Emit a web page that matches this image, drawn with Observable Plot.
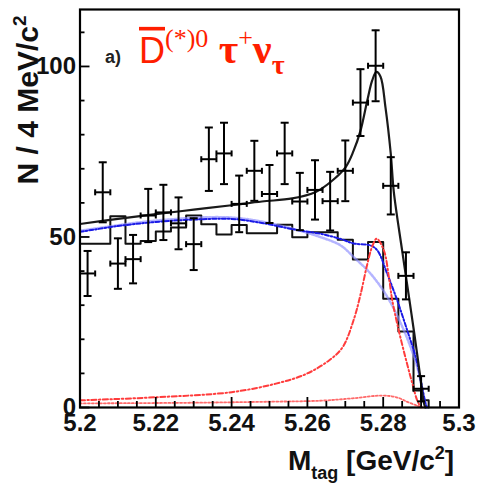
<!DOCTYPE html>
<html><head><meta charset="utf-8">
<script src="https://cdn.jsdelivr.net/npm/d3@7"></script>
<script src="https://cdn.jsdelivr.net/npm/@observablehq/plot@0.6"></script>
<style>html,body{margin:0;padding:0;background:#fff}#chart svg{display:block}</style>
</head><body><div id="chart"></div>
<script>
// ---- data points (N per 4 MeV bin) ----
const binCenters = [5.202,5.206,5.210,5.214,5.218,5.222,5.226,5.230,5.234,5.238,5.242,5.246,5.250,5.254,5.258,5.262,5.266,5.270,5.274,5.278,5.282,5.286,5.290];
const counts     = [39.3,63.1,42.2,43.5,56.3,57.2,54.0,47.9,72.8,74.5,59.7,69.4,62.6,74.5,60.4,63.8,60.5,69.4,89.4,100.2,65.0,38.6,5.5];
const errors     = [6.6,8.8,7.4,7.1,7.8,8.1,7.6,7.6,9.3,9.0,8.3,8.8,8.5,9.0,8.4,8.7,8.6,8.9,9.8,10.4,8.4,6.9,3.7];
const halfBin = 0.002;

// ---- black histogram ----
const histEdges  = [5.200,5.204,5.208,5.212,5.216,5.220,5.224,5.228,5.232,5.236,5.240,5.244,5.248,5.252,5.256,5.260,5.264,5.268,5.272,5.276,5.280,5.284,5.288,5.290,5.292];
const histValues = [48.0,48.0,56.1,48.0,48.8,51.6,52.8,56.3,53.7,50.7,53.5,51.1,51.1,53.6,49.9,51.4,51.4,49.2,43.4,48.5,31.9,22.3,5.0,2.1,0];

// ---- total fit (black curve) ----
const totalX = [5.200,5.210,5.220,5.230,5.240,5.248,5.256,5.2622,5.2662,5.2701,5.2722,5.2740,5.2758,5.2771,5.2782,5.2793,5.2806,5.2820,5.2828,5.2850,5.2868,5.2881,5.2898,5.2907,5.2911];
const totalY = [53.8,55.3,56.7,58.0,59.3,60.4,61.3,63.2,66.2,70.5,75.3,81.1,90.0,95.9,98.4,97.0,88.0,74.4,63.2,46.0,32.4,22.5,8.8,1.5,0];

// ---- background (dark blue dash-dot) ----
const bkgX = [5.200,5.210,5.220,5.230,5.240,5.248,5.257,5.2636,5.2688,5.2722,5.2767,5.2785,5.2811,5.2837,5.2864,5.2886,5.2899,5.2912,5.2916];
const bkgY = [51.5,53.2,54.4,55.1,55.3,54.1,52.1,50.9,49.4,48.1,47.5,46.0,39.1,31.4,22.4,14.7,8.0,1.2,0];

// ---- combinatorial background (light blue) ----
const combX = [5.200,5.220,5.240,5.2526,5.2636,5.2688,5.2723,5.2767,5.2811,5.2855,5.2890,5.2907,5.2913];
const combY = [51.8,54.8,55.7,53.4,49.9,47.5,44.0,39.2,32.4,22.5,11.8,3.0,0];

// ---- signal (red dash-dot) ----
const sigX = [5.200,5.220,5.240,5.2517,5.2596,5.2657,5.2693,5.2723,5.2741,5.2758,5.2772,5.2783,5.2802,5.2815,5.2824,5.2841,5.2863,5.2877,5.2890,5.2900];
const sigY = [2.1,3.0,4.5,7.0,9.8,13.8,17.7,26.0,33.5,42.0,47.5,49.5,46.0,38.2,31.4,22.6,12.8,7.0,2.0,0];

// ---- peaking background (red dotted) ----
const sig2X = [5.200,5.230,5.250,5.2636,5.272,5.2798,5.2835,5.2865,5.289,5.2905];
const sig2Y = [1.2,1.4,1.7,2.0,2.7,3.5,3.0,1.6,0.5,0];

// ---- axis ticks ----
const xMajor = [5.2,5.22,5.24,5.26,5.28,5.3];
const xMinor = [5.205,5.21,5.215,5.225,5.23,5.235,5.245,5.25,5.255,5.265,5.27,5.275,5.285,5.29,5.295];
const yMajor = [0,50,100];
const yMinor = [10,20,30,40,60,70,80,90,110];

// ---- tables built from arrays ----
const points = binCenters.map((x,i)=>({x, y: counts[i], e: errors[i]}));
const hist = histEdges.map((x,i)=>({x, y: histValues[i]}));
const zipXY = (X,Y)=>X.map((x,i)=>({x, y: Y[i]}));
const total = zipXY(totalX,totalY), bkg = zipXY(bkgX,bkgY), comb = zipXY(combX,combY), sig = zipXY(sigX,sigY), sig2 = zipXY(sig2X,sig2Y);

const hCap = {draw(ctx,size){const r=Math.sqrt(size/Math.PI);ctx.moveTo(-r,0);ctx.lineTo(r,0);}};
const vCap = {draw(ctx,size){const r=Math.sqrt(size/Math.PI);ctx.moveTo(0,-r);ctx.lineTo(0,r);}};

const W=477,H=486,mL=79.5,mR=18.5,mT=9,mB=79;
const innerW=W-mL-mR, innerH=H-mT-mB;
const font="'Liberation Sans', Arial, Helvetica, sans-serif";

const plot = Plot.plot({
  width: W, height: H,
  marginLeft: mL, marginRight: mR, marginTop: mT, marginBottom: mB,
  x: {domain: [5.2, 5.3]},
  y: {domain: [0, 116.7]},
  style: {fontFamily: font, fontSize: "24px", fontWeight: "bold", color: "#111", background: "white"},
  marks: [
    Plot.line(hist, {x:"x", y:"y", curve:"step-after", stroke:"#111", strokeWidth:2}),
    Plot.line(comb, {x:"x", y:"y", curve:"catmull-rom", stroke:"#8c8cff", strokeWidth:2.5, strokeOpacity:0.65, strokeDasharray:"2,1.5"}),
    Plot.line(bkg, {x:"x", y:"y", curve:"catmull-rom", stroke:"#1a1ae6", strokeWidth:2, strokeDasharray:"4,2,1.5,2"}),
    Plot.line(sig2, {x:"x", y:"y", curve:"catmull-rom", stroke:"#ff6a6a", strokeWidth:1.8, strokeDasharray:"2,2"}),
    Plot.line(sig, {x:"x", y:"y", curve:"catmull-rom", stroke:"#ff3c3c", strokeWidth:2, strokeDasharray:"5,2.5,1.5,2.5"}),
    Plot.line(total, {x:"x", y:"y", curve:"catmull-rom", stroke:"#1a1a1a", strokeWidth:2.2}),
    Plot.ruleX(points, {x:"x", y1: d=>d.y-d.e, y2: d=>d.y+d.e, stroke:"#000", strokeWidth:2}),
    Plot.ruleY(points, {y:"y", x1: d=>d.x-halfBin, x2: d=>d.x+halfBin, stroke:"#000", strokeWidth:2}),
    Plot.dot(points, {x:"x", y: d=>d.y+d.e, symbol:hCap, r:4, fill:"none", stroke:"#000", strokeWidth:2}),
    Plot.dot(points, {x:"x", y: d=>d.y-d.e, symbol:hCap, r:4, fill:"none", stroke:"#000", strokeWidth:2}),
    Plot.dot(points, {x: d=>d.x-halfBin, y:"y", symbol:vCap, r:3, fill:"none", stroke:"#000", strokeWidth:2}),
    Plot.dot(points, {x: d=>d.x+halfBin, y:"y", symbol:vCap, r:3, fill:"none", stroke:"#000", strokeWidth:2}),
    Plot.tickX(xMajor, {x: d=>d, insetTop: innerH-10, stroke:"#000", strokeWidth:1.8}),
    Plot.tickX(xMinor, {x: d=>d, insetTop: innerH-6, stroke:"#000", strokeWidth:1.8}),
    Plot.tickY(yMajor, {y: d=>d, insetRight: innerW-10, stroke:"#000", strokeWidth:1.8}),
    Plot.tickY(yMinor, {y: d=>d, insetRight: innerW-5, stroke:"#000", strokeWidth:1.8}),
    Plot.frame({stroke:"#000", strokeWidth:2.2}),
    Plot.axisX({ticks: xMajor, tickSize: 0, tickPadding: 6, tickFormat: d=>String(d), label: null, fontSize: 24, fontWeight: "bold"}),
    Plot.axisY({ticks: yMajor, tickSize: 0, tickPadding: 4, tickFormat: d=>String(d), label: null, fontSize: 24, fontWeight: "bold"})
  ]
});

document.getElementById("chart").appendChild(plot);

// ---- annotations (rich text) ----
const NS = "http://www.w3.org/2000/svg";
const sx = plot.scale("x"), sy = plot.scale("y");
function addText(parent, attrs, parts){
  const t = document.createElementNS(NS,"text");
  t.setAttribute("text-anchor","start");
  for (const k in attrs) t.setAttribute(k, attrs[k]);
  for (const p of parts){
    const s = document.createElementNS(NS,"tspan");
    for (const k in p) if (k!=="text") s.setAttribute(k, p[k]);
    s.textContent = p.text;
    t.appendChild(s);
  }
  parent.appendChild(t);
  return t;
}
// panel label
addText(plot, {x: sx.apply(5.2067), y: sy.apply(101.0), "font-family": font, "font-weight":"bold", "font-size":18, fill:"#222"}, [{text:"a)"}]);
// decay mode
const serif = "'Liberation Serif', 'Times New Roman', serif";
addText(plot, {x: sx.apply(5.2157), y: sy.apply(100.9), fill:"#ff1e00", "font-weight":"normal"}, [
  {text:"D", "font-family": font, "font-size":36, "text-decoration":"overline"},
  {text:"(*)0", "font-family": serif, "font-size":26, dy:-16},
  {text:" τ", "font-family": serif, "font-size":42, "font-weight":"bold", dy:16},
  {text:"+", "font-family": serif, "font-size":26, dy:-17},
  {text:"ν", "font-family": serif, "font-size":42, "font-weight":"bold", dy:17},
  {text:"τ", "font-family": serif, "font-size":28, "font-weight":"bold", dy:11}
]);
// y-axis title
addText(plot, {transform:"translate(38,100) rotate(-90)", "text-anchor":"middle", "font-family": font, "font-weight":"bold", "font-size":30, fill:"#111"}, [
  {text:"N / 4 MeV/c"},
  {text:"2", "font-size":19, dy:-12}
]);
// x-axis title
addText(plot, {x: 288, y: 470, "font-family": font, "font-weight":"bold", "font-size":28, fill:"#111"}, [
  {text:"M"},
  {text:"tag", "font-size":18, dy:9},
  {text:" [GeV/c", dy:-9},
  {text:"2", "font-size":18, dy:-11},
  {text:"]", dy:11}
]);
</script>
</body></html>
